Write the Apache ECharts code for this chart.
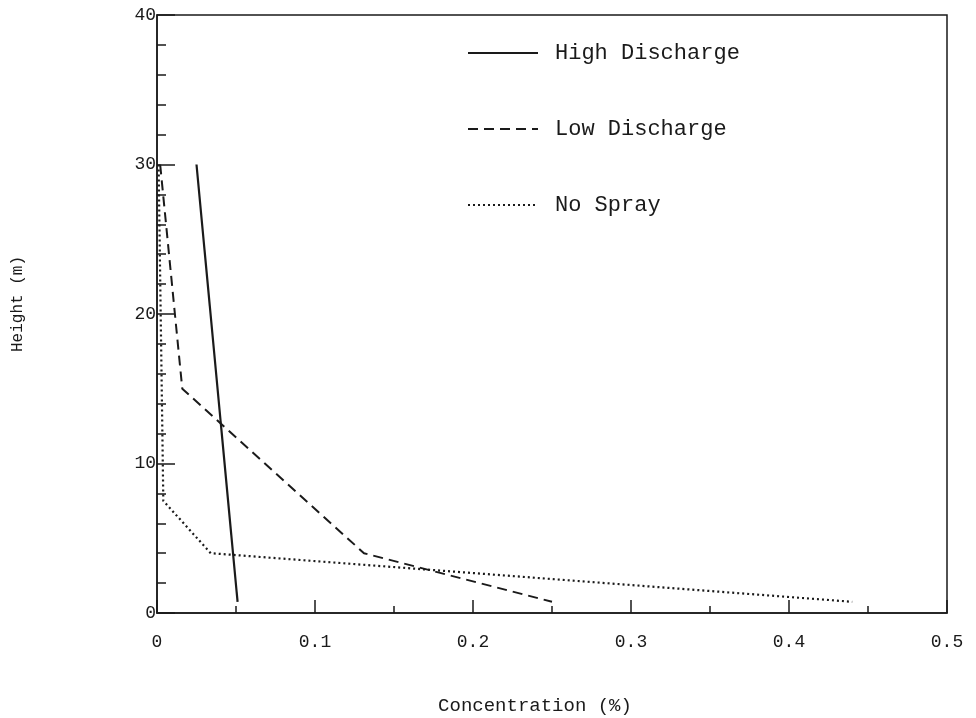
<!DOCTYPE html>
<html><head><meta charset="utf-8">
<script src="https://cdn.jsdelivr.net/npm/echarts@6/dist/echarts.min.js"></script>
<style>html,body{margin:0;padding:0;background:#fff}#c{width:976px;height:718px}</style>
</head><body><div id="c"></div>
<script>
const seriesNames = ['High Discharge', 'Low Discharge', 'No Spray'];
const highX = [0.025, 0.051];
const highY = [30, 0.75];
const lowX = [0.002, 0.016, 0.131, 0.250];
const lowY = [30, 15, 4, 0.75];
const noX = [0.001, 0.004, 0.034, 0.44];
const noY = [30, 7.5, 4, 0.75];
const xTicks = [0, 0.1, 0.2, 0.3, 0.4, 0.5];
const yTicks = [0, 10, 20, 30, 40];

const font = "'Liberation Mono', 'DejaVu Sans Mono', monospace";
const ink = '#1a1a1a';
const pairs = (xs, ys) => xs.map((x, i) => [x, ys[i]]);

const chart = echarts.init(document.getElementById('c'));
chart.setOption({
  animation: false,
  backgroundColor: '#fff',
  grid: { left: 157, right: 29, top: 15, bottom: 105, containLabel: false, outerBoundsMode: 'none',
          show: true, borderColor: ink, borderWidth: 1.5, backgroundColor: 'transparent' },
  legend: {
    orient: 'vertical', left: 462, top: 37, itemWidth: 70, itemHeight: 16, itemGap: 54,
    itemStyle: { opacity: 0 },
    textStyle: { fontFamily: font, fontSize: 22, color: ink, padding: [0, 0, 0, 12] },
    data: seriesNames
  },
  xAxis: {
    type: 'value', min: xTicks[0], max: xTicks[xTicks.length - 1], interval: 0.1,
    name: 'Concentration (%)', nameLocation: 'middle', nameGap: 83,
    nameTextStyle: { fontFamily: font, fontSize: 19, color: ink, padding: [0, 34, 0, 0] },
    axisLine: { lineStyle: { color: ink, width: 1.5 } },
    axisTick: { inside: true, length: 13, lineStyle: { color: ink, width: 1.5 } },
    minorTick: { show: true, splitNumber: 2, length: 7, lineStyle: { color: ink, width: 1.5 } },
    splitLine: { show: false },
    axisLabel: { fontFamily: font, fontSize: 18, color: ink, margin: 20, formatter: v => String(+v.toFixed(1)) }
  },
  yAxis: {
    type: 'value', min: yTicks[0], max: yTicks[yTicks.length - 1], interval: 10,
    name: 'Height (m)', nameLocation: 'middle', nameGap: 131, nameRotate: 90,
    nameTextStyle: { fontFamily: font, fontSize: 16, color: ink, padding: [0, 0, 0, 20] },
    axisLine: { lineStyle: { color: ink, width: 1.5 } },
    axisTick: { inside: true, length: 18, lineStyle: { color: ink, width: 1.5 } },
    minorTick: { show: true, splitNumber: 5, length: 9, lineStyle: { color: ink, width: 1.5 } },
    splitLine: { show: false },
    axisLabel: { fontFamily: font, fontSize: 18, color: ink, margin: 1 }
  },
  series: [
    { name: seriesNames[0], type: 'line', symbol: 'none', data: pairs(highX, highY),
      lineStyle: { color: ink, width: 2.2, type: 'solid' }, itemStyle: { color: ink } },
    { name: seriesNames[1], type: 'line', symbol: 'none', data: pairs(lowX, lowY),
      lineStyle: { color: ink, width: 2, type: [10, 6] }, itemStyle: { color: ink } },
    { name: seriesNames[2], type: 'line', symbol: 'none', data: pairs(noX, noY),
      lineStyle: { color: ink, width: 2.2, type: [2, 3] }, itemStyle: { color: ink } }
  ]
});
</script></body></html>
